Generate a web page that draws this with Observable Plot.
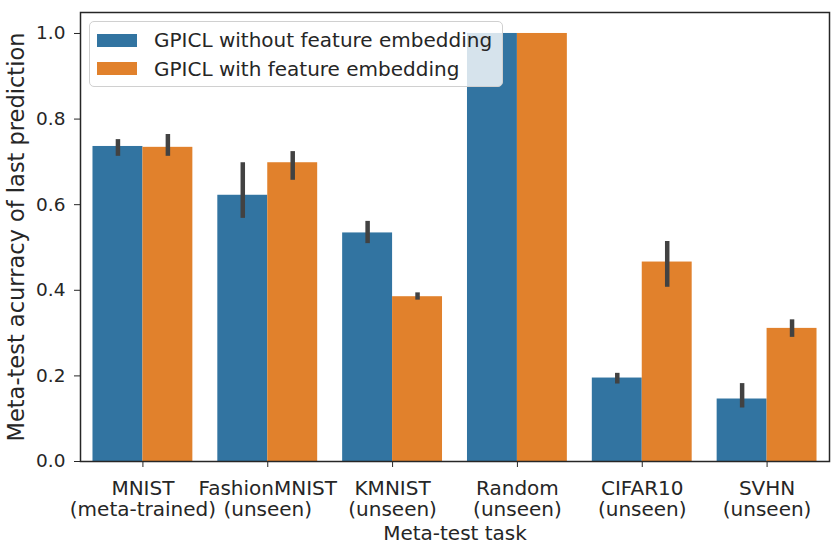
<!DOCTYPE html>
<html>
<head>
<meta charset="utf-8">
<script src="https://cdn.jsdelivr.net/npm/d3@7"></script>
<script src="https://cdn.jsdelivr.net/npm/@observablehq/plot@0.6"></script>
<style>
  html, body { margin: 0; padding: 0; background: #fff; }
  #wrap { position: relative; width: 834px; height: 544px; font-family: "DejaVu Sans", sans-serif; color: #262626; }
  #legend { position: absolute; left: 89px; top: 21px; width: 414px; height: 66px; box-sizing: border-box;
            background: rgba(255,255,255,0.8); border: 1.5px solid #d0d0d0; border-radius: 5px; }
  .row { position: absolute; left: 7px; height: 20px; display: flex; align-items: center; font-size: 20px; white-space: nowrap; }
  .sw { width: 40px; height: 13px; margin-right: 17px; }
</style>
</head>
<body>
<div id="wrap"></div>
<script>
// Meta-test tasks shown on the x axis (name + note on a second line)
const taskNames = ["MNIST", "FashionMNIST", "KMNIST", "Random", "CIFAR10", "SVHN"];
const taskNotes = ["(meta-trained)", "(unseen)", "(unseen)", "(unseen)", "(unseen)", "(unseen)"];

// The two model variants
const seriesNames = ["GPICL without feature embedding", "GPICL with feature embedding"];
const seriesColors = ["#3274a1", "#e1812c"];

// Mean accuracy of the last prediction and its confidence interval
const withoutMean = [0.736, 0.622, 0.534, 1.0, 0.195, 0.146];
const withoutLo   = [0.713, 0.568, 0.509, 1.0, 0.181, 0.125];
const withoutHi   = [0.752, 0.698, 0.561, 1.0, 0.206, 0.182];
const withMean    = [0.734, 0.698, 0.385, 1.0, 0.466, 0.311];
const withLo      = [0.713, 0.657, 0.377, 1.0, 0.407, 0.290];
const withHi      = [0.764, 0.724, 0.394, 1.0, 0.514, 0.331];

const yTicks = [0, 0.2, 0.4, 0.6, 0.8, 1.0];

// Long table: one row per (task, variant); the two bars of a task share its slot
const groupWidth = 0.8;
const half = groupWidth / 2;
const means = [withoutMean, withMean], los = [withoutLo, withLo], his = [withoutHi, withHi];
const rows = [];
taskNames.forEach((t, i) => {
  seriesNames.forEach((s, k) => {
    const x1 = i - half + k * half;
    rows.push({task: i, series: s, x1, x2: x1 + half, xc: x1 + half / 2,
               mean: means[k][i], lo: los[k][i], hi: his[k][i]});
  });
});

const chart = Plot.plot({
  width: 834,
  height: 544,
  marginLeft: 80,
  marginRight: 5,
  marginTop: 12,
  marginBottom: 83,
  style: {fontFamily: "DejaVu Sans, sans-serif", fontSize: "18.5px", color: "#262626", background: "white"},
  x: {type: "linear", domain: [-0.5, taskNames.length - 0.5]},
  y: {type: "linear", domain: [0, 1.049]},
  color: {domain: seriesNames, range: seriesColors},
  marks: [
    Plot.rectY(rows, {x1: "x1", x2: "x2", y: "mean", fill: "series"}),
    Plot.ruleX(rows, {x: "xc", y1: "lo", y2: "hi", stroke: "#424242", strokeWidth: 4.5}),
    Plot.frame({stroke: "#262626", strokeWidth: 1.5}),
    Plot.axisX({ticks: d3.range(taskNames.length), tickFormat: i => taskNames[i] + "\n" + taskNotes[i],
                tickSize: 6, tickPadding: 12, lineHeight: 1.07, label: null, fontSize: 20}),
    Plot.axisX({ticks: [], label: "Meta-test task", labelAnchor: "center", labelOffset: 78, labelArrow: "none", fontSize: 20}),
    Plot.axisY({ticks: yTicks, tickFormat: d3.format(".1f"), tickSize: 6, tickPadding: 9, label: null, fontSize: 18.5}),
    Plot.axisY({ticks: [], label: "Meta-test acurracy of last prediction", labelAnchor: "center", labelOffset: 72, labelArrow: "none", fontSize: 22.5})
  ]
});

const wrap = document.getElementById("wrap");
wrap.appendChild(chart);

// Legend box drawn over the plot area
const legend = document.createElement("div");
legend.id = "legend";
seriesNames.forEach((name, k) => {
  const row = document.createElement("div");
  row.className = "row";
  row.style.top = (8 + k * 28.5) + "px";
  const sw = document.createElement("span");
  sw.className = "sw";
  sw.style.background = seriesColors[k];
  const label = document.createElement("span");
  label.textContent = name;
  row.appendChild(sw);
  row.appendChild(label);
  legend.appendChild(row);
});
wrap.appendChild(legend);
</script>
</body>
</html>
